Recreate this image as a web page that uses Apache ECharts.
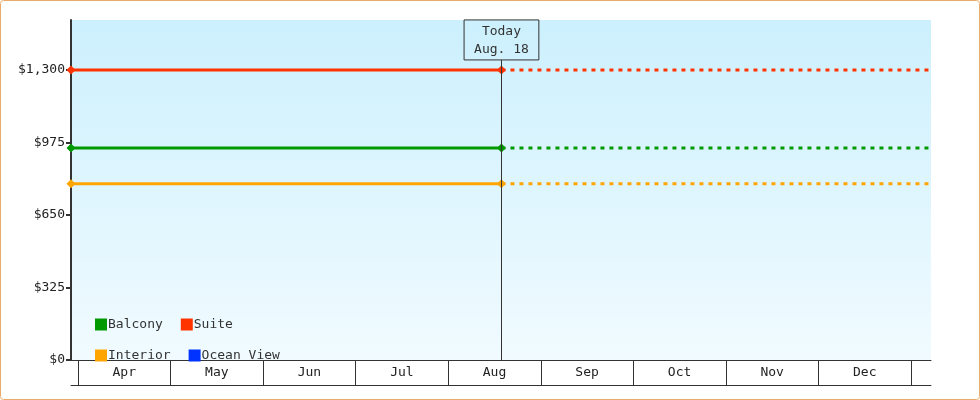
<!DOCTYPE html>
<html><head><meta charset="utf-8">
<script src="https://cdn.jsdelivr.net/npm/echarts@6/dist/echarts.min.js"></script>
<style>html,body{margin:0;padding:0;background:#fff}#c{width:980px;height:400px}</style>
</head><body><div id="c"></div>
<script>
const months = ['Apr','May','Jun','Jul','Aug','Sep','Oct','Nov','Dec'];
const yTicks = [0,325,650,975,1300];
const startDay = 88.7, todayDay = 230, endDay = 371;
const seriesNames = ['Balcony','Suite','Interior','Ocean View'];
const seriesColors = ['#009900','#ff3300','#ffa500','#0033ff'];
const seriesValues = [950, 1300, 790, null];
const todayLabel = 'Today\nAug. 18';
const F = 'DejaVu Sans Mono';
const chart = echarts.init(document.getElementById('c'));
const series = [];
seriesNames.forEach((n,i)=>{
  const v = seriesValues[i];
  series.push({name:n,type:'line',xAxisIndex:0,yAxisIndex:0,color:seriesColors[i],
    data: v==null?[]:[[startDay,v],[todayDay,v]],
    symbol:'diamond',symbolSize:9,lineStyle:{width:3,color:seriesColors[i]},
    itemStyle:{color:seriesColors[i]},animation:false,z:3});
  if(v!=null) series.push({name:n,type:'line',xAxisIndex:0,yAxisIndex:0,color:seriesColors[i],
    data:[[todayDay,v],[endDay,v]],showSymbol:false,symbol:'none',
    lineStyle:{width:3,type:[4,5],color:seriesColors[i]},animation:false,z:2});
});
series.push({type:'line',xAxisIndex:0,yAxisIndex:0,data:[],animation:false,
  markLine:{symbol:'none',silent:true,animation:false,
    lineStyle:{color:'#333',width:1,type:'solid'},
    label:{show:true,position:'end',formatter:todayLabel,fontFamily:F,fontSize:13,color:'#333',
      lineHeight:18,borderColor:'#333',borderWidth:1,padding:[3,10,1,10],distance:0},
    data:[[{coord:[todayDay,0]},{coord:[todayDay,1345]}]]}});
chart.setOption({
  animation:false,
  grid:[{left:71,right:49,top:20,bottom:40,show:true,borderWidth:0,
    backgroundColor:new echarts.graphic.LinearGradient(0,0,0,1,[{offset:0,color:'#ccf0fd'},{offset:1,color:'#f1fbff'}])},
    {left:78,right:69,top:360,height:25}],
  legend:{left:90,top:313,width:200,itemWidth:12,itemHeight:12,itemGap:18,icon:'rect',
    data:seriesNames,textStyle:{fontFamily:F,fontSize:13,color:'#333',padding:[0,0,0,-4]},selectedMode:false},
  xAxis:[
    {type:'value',gridIndex:0,min:startDay,max:endDay,axisLabel:{show:false},axisTick:{show:false},splitLine:{show:false},
      axisLine:{show:true,onZero:false,lineStyle:{color:'#333',width:1}}},
    {type:'value',gridIndex:0,position:'bottom',offset:25,min:startDay,max:endDay,axisLabel:{show:false},axisTick:{show:false},splitLine:{show:false},
      axisLine:{show:true,onZero:false,lineStyle:{color:'#333',width:1}}},
    {type:'category',gridIndex:1,data:months,boundaryGap:true,axisLine:{show:false},
      axisTick:{show:true,inside:true,length:25,lineStyle:{color:'#333'}},
      axisLabel:{inside:true,margin:6,fontFamily:F,fontSize:13,color:'#222',verticalAlign:'bottom'}}
  ],
  yAxis:[
    {type:'value',gridIndex:0,min:0,max:1524,interval:325,splitLine:{show:false},
      axisLine:{show:true,lineStyle:{color:'#333',width:2}},
      axisTick:{show:true,length:5,lineStyle:{color:'#333',width:2},interval:0},
      axisLabel:{showMaxLabel:false,fontFamily:F,fontSize:13,color:'#222',margin:6,
        formatter:v=>yTicks.includes(v)?'$'+v.toLocaleString('en-US'):''}},
    {type:'value',gridIndex:1,show:false}
  ],
  graphic:[{type:'rect',shape:{x:0.5,y:0.5,width:979,height:399,r:3},style:{fill:'none',stroke:'#e9ac68',lineWidth:1},z:-1}],
  series
});
</script></body></html>
